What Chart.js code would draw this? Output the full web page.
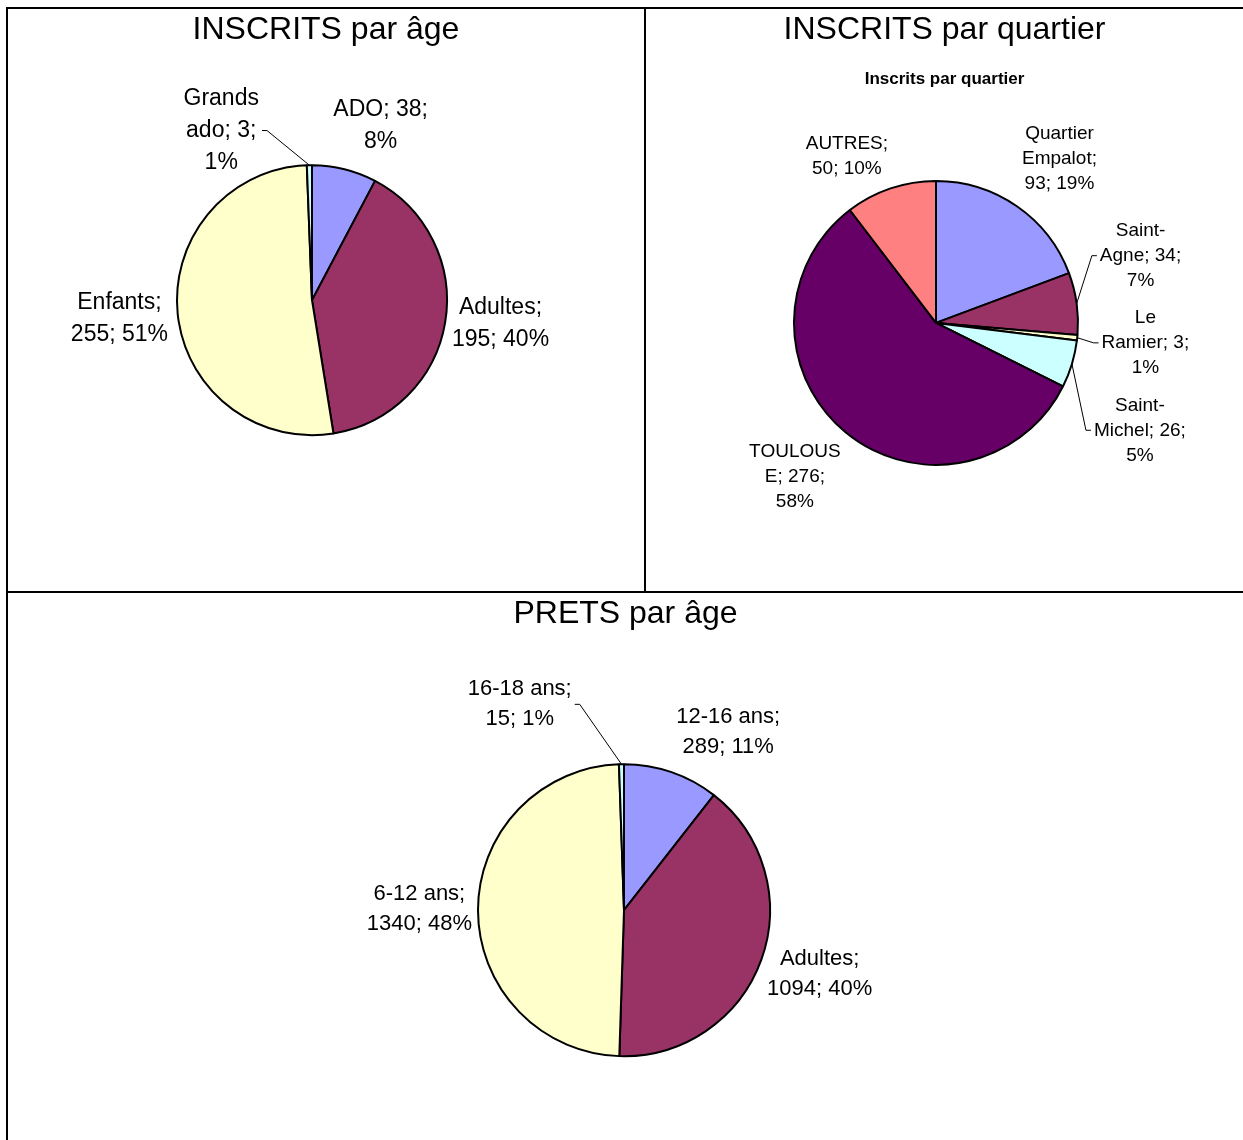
<!DOCTYPE html>
<html>
<head>
<meta charset="utf-8">
<script src="https://cdn.jsdelivr.net/npm/chart.js@4.4.0/dist/chart.umd.min.js"></script>
<style>
body { margin: 0; background: #fff; width: 1243px; height: 1140px; position: relative; overflow: hidden; }
.rule { position: absolute; background: #000; }
canvas { position: absolute; }
</style>
</head>
<body>
<div class="rule" style="left:6px;top:7px;width:1237px;height:2px"></div>
<div class="rule" style="left:6px;top:7px;width:2px;height:1133px"></div>
<div class="rule" style="left:644px;top:7px;width:2px;height:586px"></div>
<div class="rule" style="left:6px;top:591px;width:1237px;height:2px"></div>
<canvas id="ageChart" width="636" height="582" style="left:8px;top:9px"></canvas>
<canvas id="quartierChart" width="597" height="582" style="left:646px;top:9px"></canvas>
<canvas id="pretChart" width="1235" height="547" style="left:8px;top:593px"></canvas>
<script>
// INSCRITS par âge
var ageCats = ['ADO', 'Adultes', 'Enfants', 'Grands ado'];
var ageValues = [38, 195, 255, 3];
var agePct = ['8%', '40%', '51%', '1%'];

// INSCRITS par quartier
var quartierCats = ['Quartier Empalot', 'Saint-Agne', 'Le Ramier', 'Saint-Michel', 'TOULOUSE', 'AUTRES'];
var quartierValues = [93, 34, 3, 26, 276, 50];
var quartierPct = ['19%', '7%', '1%', '5%', '58%', '10%'];

// PRETS par âge
var pretCats = ['12-16 ans', 'Adultes', '6-12 ans', '16-18 ans'];
var pretValues = [289, 1094, 1340, 15];
var pretPct = ['11%', '40%', '48%', '1%'];

var FONT = '"Liberation Sans", Arial, sans-serif';
Chart.defaults.font.family = FONT;
Chart.defaults.color = '#000';

// excel-like wrapping: break on spaces and after hyphens, cut long words
function wrapLabel(ctx, text, maxW) {
    var words = [];
    text.split(' ').forEach(function(w){
        w.split(/(?<=-)/).forEach(function(p, i){ words.push({t: p, sp: i === 0}); });
    });
    var lines = [], cur = '';
    words.forEach(function(wd){
        var cand = cur ? cur + (wd.sp ? ' ' : '') + wd.t : wd.t;
        if (ctx.measureText(cand).width <= maxW) { cur = cand; return; }
        if (cur) lines.push(cur);
        cur = wd.t;
        while (ctx.measureText(cur).width > maxW && cur.length > 1) {
            var n = cur.length - 1;
            while (n > 1 && ctx.measureText(cur.slice(0, n)).width > maxW) n--;
            lines.push(cur.slice(0, n));
            cur = cur.slice(n);
        }
    });
    if (cur) lines.push(cur);
    return lines;
}

var pieLabels = {
    id: 'pieLabels',
    afterLayout: function(chart) {
        // titles stay centred on the panel, the pie itself is shifted by the padding
        chart.boxes.forEach(function(b){
            if (b.options && b.options.text !== undefined && b.isHorizontal && b.isHorizontal()) {
                b.left = 0; b.right = chart.width; b.width = chart.width;
            }
        });
    },
    afterDatasetsDraw: function(chart, args, o) {
        var ctx = chart.ctx;
        var meta = chart.getDatasetMeta(0);
        var ds = chart.data.datasets[0];
        ctx.save();
        ctx.font = o.size + 'px ' + FONT;
        ctx.fillStyle = '#000';
        ctx.strokeStyle = '#000';
        ctx.lineWidth = 1;
        ctx.textAlign = 'center';
        ctx.textBaseline = 'middle';
        meta.data.forEach(function(arc, i){
            var p = arc.getProps(['x', 'y', 'startAngle', 'endAngle', 'outerRadius'], true);
            var mid = (p.startAngle + p.endAngle) / 2;
            var ux = Math.cos(mid), uy = Math.sin(mid);
            var lines = wrapLabel(ctx, chart.data.labels[i] + '; ' + ds.data[i] + '; ' + o.pct[i], o.maxWidth);
            var w = Math.max.apply(null, lines.map(function(l){ return ctx.measureText(l).width; }));
            var h = lines.length * o.lineHeight;
            var d = p.outerRadius + o.gap + Math.abs(ux) * w / 2 + Math.abs(uy) * h / 2;
            var nudge = o.nudge[i] || [0, 0];
            var cx = p.x + ux * d + nudge[0];
            var cy = p.y + uy * d + nudge[1];
            if (o.leader[i]) {
                var ax = p.x + ux * p.outerRadius, ay = p.y + uy * p.outerRadius;
                var side = ax < cx ? -1 : 1;
                var ex = cx + side * (w / 2 + 3);
                ctx.beginPath();
                ctx.moveTo(ex, cy);
                ctx.lineTo(ex + side * 5, cy);
                ctx.lineTo(ax, ay);
                ctx.stroke();
            }
            lines.forEach(function(l, k){
                ctx.fillText(l, cx, cy - h / 2 + o.lineHeight * (k + 0.5));
            });
        });
        ctx.restore();
    }
};

function makePie(id, cats, values, colors, opts) {
    var ctx = document.getElementById(id).getContext('2d');
    return new Chart(ctx, {
        type: 'pie',
        data: {
            labels: cats,
            datasets: [{
                data: values,
                backgroundColor: colors,
                borderColor: '#000',
                borderWidth: 2,
                hoverOffset: 0
            }]
        },
        options: {
            responsive: false,
            animation: false,
            events: [],
            radius: opts.radius,
            layout: { padding: opts.padding },
            plugins: {
                legend: { display: false },
                tooltip: { enabled: false },
                title: {
                    display: true,
                    text: opts.title,
                    font: { size: 32, weight: 'normal' },
                    padding: { top: 2, bottom: opts.titleGap || 0 }
                },
                subtitle: opts.subtitle ? {
                    display: true,
                    text: opts.subtitle,
                    font: { size: 17, weight: 'bold' },
                    padding: { top: 20, bottom: 0 }
                } : { display: false },
                pieLabels: opts.labels
            }
        },
        plugins: [pieLabels]
    });
}

makePie('ageChart', ageCats, ageValues, ['#9999FF', '#993366', '#FFFFCC', '#CCFFFF'], {
    title: 'INSCRITS par âge',
    radius: 135,
    padding: { left: 0, right: 28, top: 0, bottom: 40 },
    labels: {
        pct: agePct, size: 23, lineHeight: 32, maxWidth: 100, gap: 12,
        nudge: [[23, 9], [-9, -9], [5, -1], [-87, 26]],
        leader: [false, false, false, true]
    }
});

makePie('quartierChart', quartierCats, quartierValues, ['#9999FF', '#993366', '#FFFFCC', '#CCFFFF', '#660066', '#FF8080'], {
    title: 'INSCRITS par quartier',
    subtitle: 'Inscrits par quartier',
    radius: 142,
    padding: { left: 0, right: 17, top: 0, bottom: 35 },
    labels: {
        pct: quartierPct, size: 19, lineHeight: 25, maxWidth: 92.4, gap: 12,
        nudge: [[6, 5], [7, -40], [9, -1], [4, 47], [-6, -10], [-28, 14]],
        leader: [false, true, true, true, false, false]
    }
});

makePie('pretChart', pretCats, pretValues, ['#9999FF', '#993366', '#FFFFCC', '#CCFFFF'], {
    title: 'PRETS par âge',
    titleGap: 47,
    radius: 146,
    padding: { left: 0, right: 3, top: 0, bottom: 0 },
    labels: {
        pct: pretPct, size: 22, lineHeight: 30, maxWidth: 110, gap: 12,
        nudge: [[38, 14], [-9, -10], [6, -2], [-101, -17]],
        leader: [false, false, false, true]
    }
});
</script>
</body>
</html>
